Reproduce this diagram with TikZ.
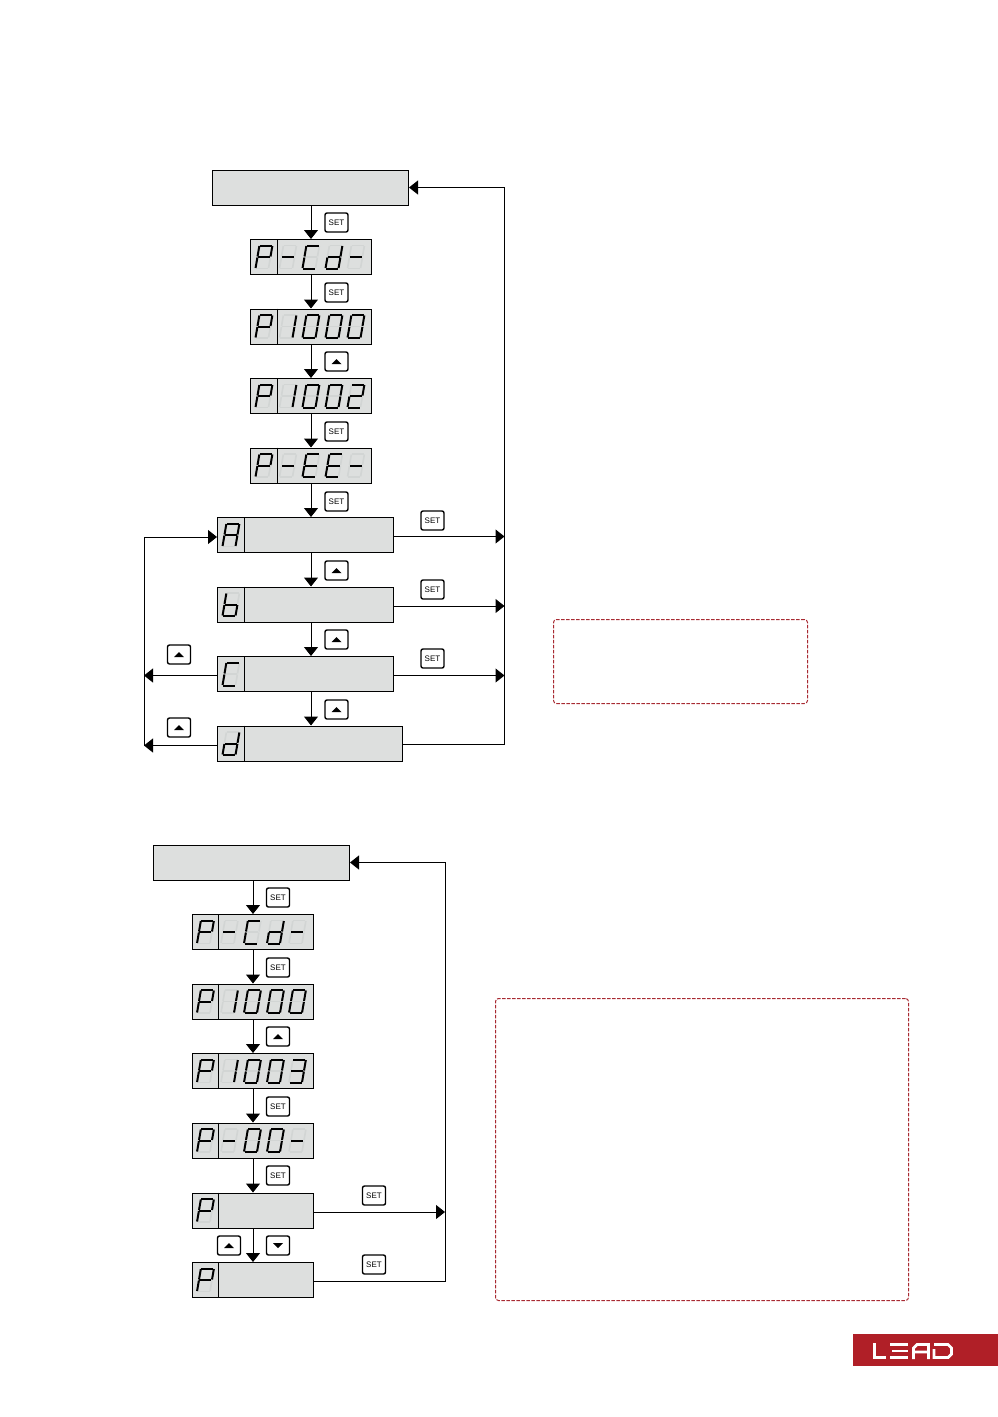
\documentclass[tikz,border=0pt]{standalone}
\usepackage{fontspec}
\setsansfont{Liberation Sans}
\usetikzlibrary{arrows.meta}
\definecolor{panelgray}{HTML}{DDDFDE}
\definecolor{ghostgray}{HTML}{D2D5D4}
\definecolor{dashred}{HTML}{A82A32}
\definecolor{logored}{HTML}{B01F27}
\def\segP{a,b,e,f,g}
\def\segDash{g}
\def\segC{a,d,e,f}
\def\segd{b,c,d,e,g}
\def\segb{c,d,e,f,g}
\def\segA{a,b,c,e,f,g}
\def\segE{a,d,e,f,g}
\def\segOne{b,c}
\def\segZero{a,b,c,d,e,f}
\def\segTwo{a,b,d,e,g}
\def\segThree{a,b,c,d,g}
\tikzset{
  seg a/.style={insert path={(1,23)--(13,23)}},
  seg b/.style={insert path={(13.5,22.5)--(13.5,12)}},
  seg c/.style={insert path={(13.5,11)--(13.5,.5)}},
  seg d/.style={insert path={(1,0)--(13,0)}},
  seg e/.style={insert path={(.5,11)--(.5,.5)}},
  seg f/.style={insert path={(.5,22.5)--(.5,12)}},
  seg g/.style={insert path={(1,11.5)--(13,11.5)}}
}
% one slanted character, dx from the left of the panel
\newcommand{\segchar}[3]{
  \begin{scope}[shift={(#1.south west)},shift={(#2,6.5)},xslant=0.17]
    \foreach \s in {a,b,c,d,e,f,g} \draw[line width=1.6pt,ghostgray,seg \s];
    \foreach \s in #3 \draw[line width=2pt,black,seg \s];
  \end{scope}
}
\newcommand{\celldiv}[1]{
  \draw ([xshift=27pt]#1.north west) -- ([xshift=27pt]#1.south west);
}
\newcommand{\segrow}[5]{
  \celldiv{#1}
  \segchar{#1}{5}{\segP}
  \segchar{#1}{29}{#2}
  \segchar{#1}{52}{#3}
  \segchar{#1}{75}{#4}
  \segchar{#1}{97}{#5}
}
\begin{document}
\begin{tikzpicture}[x=1pt,y=1pt,node distance=69.5pt,line width=1pt,>={Triangle[length=9pt,width=14pt]},
  panel/.style={draw,fill=panelgray,minimum height=35pt,inner sep=0pt},
  wide/.style={panel,minimum width=196pt},
  display/.style={panel,minimum width=121pt},
  keybox/.style={draw,fill=white,line width=1.4pt,rounded corners=2pt,minimum width=23pt,minimum height=19pt,inner sep=0pt,font=\sffamily\fontsize{8}{9}\selectfont},
  keyup/.style={keybox,path picture={\fill[black,sharp corners] ([xshift=-5pt,yshift=-2.5pt]path picture bounding box.center) -- ++(10pt,0pt) -- ++(-5pt,5pt) -- cycle;}},
  keydown/.style={keybox,path picture={\fill[black,sharp corners] ([xshift=-5pt,yshift=2.5pt]path picture bounding box.center) -- ++(10pt,0pt) -- ++(-5pt,-5pt) -- cycle;}},
  dashbox/.style={draw=dashred,dashed,dash pattern=on 3.5pt off 1.5pt,line width=1pt,rounded corners=3pt,inner sep=0pt}]
\useasboundingbox (0,-1417) rectangle (998,0);

% first chart
\coordinate (axisa) at (311,0);
\coordinate (railr) at (504.5,0);
\coordinate (raill) at (144,0);
\node[wide] (topa) at (310.5,-187.5) {};
\node[display] (cda) at (311,-257) {};
\node[display,below of=cda] (thoua) {};
\node[display,below of=thoua] (twoa) {};
\node[display,below of=twoa] (eea) {};
\node[panel,minimum width=176pt,below of=eea,xshift=-5.5pt] (opta) {};
\node[panel,minimum width=176pt,below of=opta] (optb) {};
\node[panel,minimum width=176pt,below of=optb] (optc) {};
\node[panel,minimum width=185pt,below of=optc,xshift=4.5pt] (optd) {};
\segrow{cda}{\segDash}{\segC}{\segd}{\segDash}
\segrow{thoua}{\segOne}{\segZero}{\segZero}{\segZero}
\segrow{twoa}{\segOne}{\segZero}{\segZero}{\segTwo}
\segrow{eea}{\segDash}{\segE}{\segE}{\segDash}
\celldiv{opta}\segchar{opta}{5}{\segA}
\celldiv{optb}\segchar{optb}{5}{\segb}
\celldiv{optc}\segchar{optc}{5}{\segC}
\celldiv{optd}\segchar{optd}{5}{\segd}
\draw[->] (axisa |- topa.south) -- (axisa |- cda.north);
\draw[->] (axisa |- cda.south) -- (axisa |- thoua.north);
\draw[->] (axisa |- thoua.south) -- (axisa |- twoa.north);
\draw[->] (axisa |- twoa.south) -- (axisa |- eea.north);
\draw[->] (axisa |- eea.south) -- (axisa |- opta.north);
\draw[->] (axisa |- opta.south) -- (axisa |- optb.north);
\draw[->] (axisa |- optb.south) -- (axisa |- optc.north);
\draw[->] (axisa |- optc.south) -- (axisa |- optd.north);
\draw[->] ([yshift=-1.5pt]opta.east) -- ([yshift=-1.5pt]opta.east -| railr);
\draw[->] ([yshift=-1.5pt]optb.east) -- ([yshift=-1.5pt]optb.east -| railr);
\draw[->] ([yshift=-1.5pt]optc.east) -- ([yshift=-1.5pt]optc.east -| railr);
\draw[->] ([yshift=-1pt]optd.east) -- ([yshift=-1pt]optd.east -| railr) |- (topa.east);
\draw[->] ([yshift=-1.5pt]optc.west) -- ([yshift=-1.5pt]optc.west -| raill);
\draw[->] ([yshift=-2pt]optd.west) -- ([yshift=-2pt]optd.west -| raill);
\draw[->] ([yshift=-2pt]optd.west -| raill) |- ([yshift=-2pt]opta.west);
\node[keybox] (k1) at (336.5,-222.5) {SET};
\node[keybox] (k2) at (336.5,-292.5) {SET};
\node[keyup] (k3) at (336.5,-361.5) {};
\node[keybox] (k4) at (336.5,-431.5) {SET};
\node[keybox] (k5) at (336.5,-501.5) {SET};
\node[keyup] (k6) at (336.5,-570.5) {};
\node[keyup] (k7) at (336.5,-639.5) {};
\node[keyup] (k8) at (336.5,-709.5) {};
\node[keybox] (k9) at (432.5,-520.5) {SET};
\node[keybox] (k10) at (432.5,-589.5) {SET};
\node[keybox] (k11) at (432.5,-658.5) {SET};
\node[keyup] (k12) at (179,-654.5) {};
\node[keyup] (k13) at (179,-727.5) {};
\node[dashbox,minimum width=254pt,minimum height=84pt] (notea) at (680.5,-661.5) {};

% second chart
\coordinate (axisb) at (253,0);
\coordinate (railb) at (445,0);
\node[wide] (topb) at (251.5,-862.5) {};
\node[display] (cdb) at (252.5,-932) {};
\node[display,below of=cdb] (thoub) {};
\node[display,below of=thoub] (threeb) {};
\node[display,below of=threeb] (oob) {};
\node[display,below of=oob,yshift=-.5pt] (pa) {};
\node[display,below of=pa] (pb) {};
\segrow{cdb}{\segDash}{\segC}{\segd}{\segDash}
\segrow{thoub}{\segOne}{\segZero}{\segZero}{\segZero}
\segrow{threeb}{\segOne}{\segZero}{\segZero}{\segThree}
\segrow{oob}{\segDash}{\segZero}{\segZero}{\segDash}
\celldiv{pa}\segchar{pa}{5}{\segP}
\celldiv{pb}\segchar{pb}{5}{\segP}
\draw[->] (axisb |- topb.south) -- (axisb |- cdb.north);
\draw[->] (axisb |- cdb.south) -- (axisb |- thoub.north);
\draw[->] (axisb |- thoub.south) -- (axisb |- threeb.north);
\draw[->] (axisb |- threeb.south) -- (axisb |- oob.north);
\draw[->] (axisb |- oob.south) -- (axisb |- pa.north);
\draw[->] (axisb |- pa.south) -- (axisb |- pb.north);
\draw[->] ([yshift=-1.5pt]pa.east) -- ([yshift=-1.5pt]pa.east -| railb);
\draw[->] ([yshift=-1pt]pb.east) -- ([yshift=-1pt]pb.east -| railb) |- (topb.east);
\node[keybox] (m1) at (278,-897.5) {SET};
\node[keybox] (m2) at (278,-967.5) {SET};
\node[keyup] (m3) at (278,-1036.5) {};
\node[keybox] (m4) at (278,-1106.5) {SET};
\node[keybox] (m5) at (278,-1175.5) {SET};
\node[keyup] (m6) at (229,-1245.5) {};
\node[keydown] (m7) at (278,-1245.5) {};
\node[keybox] (m8) at (374,-1195.5) {SET};
\node[keybox] (m9) at (374,-1264.5) {SET};
\node[dashbox,minimum width=413pt,minimum height=302pt] (noteb) at (702,-1149.5) {};

% logo
\fill[logored] (853,-1334) rectangle (998,-1366);
\draw[white,line width=3pt] (874.5,-1343) -- (874.5,-1357.5) -- (886,-1357.5);
\draw[white,line width=2.8pt] (890,-1344.5) -- (908,-1344.5) (892,-1351) -- (908,-1351) (890,-1357.5) -- (908,-1357.5);
\draw[white,line width=2.8pt] (913.5,-1359) -- (913.5,-1348) -- (917,-1344.5) -- (928.5,-1344.5) -- (928.5,-1359) (915,-1352) -- (928,-1352);
\draw[white,line width=2.8pt] (934,-1344.5) -- (948,-1344.5) -- (951.5,-1348) -- (951.5,-1354) -- (948,-1357.5) -- (934,-1357.5) -- (934,-1349);
\end{tikzpicture}
\end{document}
